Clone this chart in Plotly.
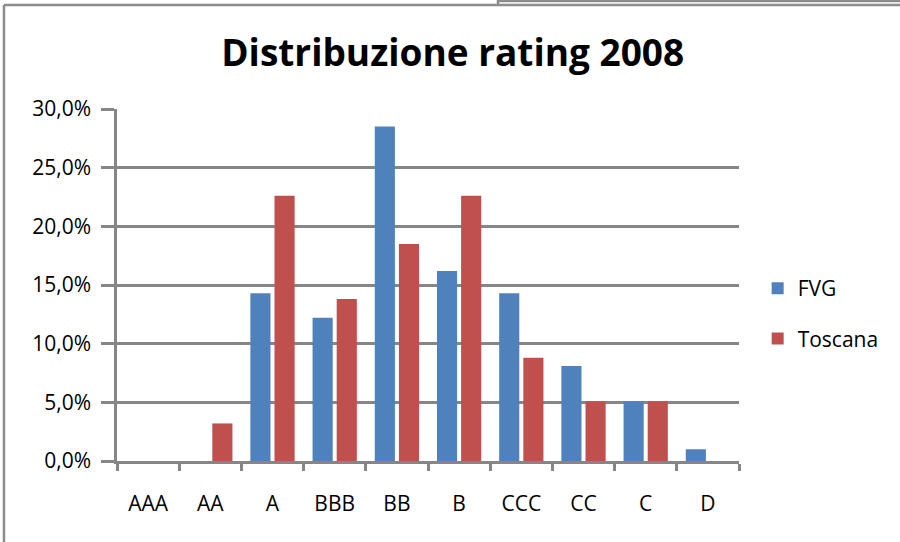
import plotly.graph_objects as go

ratings = ["AAA", "AA", "A", "BBB", "BB", "B", "CCC", "CC", "C", "D"]
fvg_pct = [0.0, 0.0, 14.3, 12.2, 28.5, 16.2, 14.3, 8.1, 5.1, 1.0]
toscana_pct = [0.0, 3.2, 22.6, 13.8, 18.5, 22.6, 8.8, 5.1, 5.1, 0.0]
y_ticks = [0, 5, 10, 15, 20, 25, 30]
y_tick_text = [f"{v:.1f}%".replace(".", ",") for v in y_ticks]

blue = "#4f81bd"
red = "#c0504d"
grid = "#868686"
font_family = "Open Sans, Noto Sans, sans-serif"

fig = go.Figure()
fig.add_trace(
    go.Bar(
        x=ratings,
        y=fvg_pct,
        name="FVG",
        legendgroup="fvg",
        marker=dict(color=blue, line=dict(width=0)),
    )
)
fig.add_trace(
    go.Bar(
        x=ratings,
        y=toscana_pct,
        name="Toscana",
        legendgroup="toscana",
        marker=dict(color=red, line=dict(width=0)),
    )
)

# chart frame: left and top border, plus the edge of the box behind it
frame = dict(color="#8c8c8c", width=2.5)
fig.add_shape(type="line", xref="paper", yref="paper", x0=-0.1817, x1=-0.1817, y0=-0.3, y1=1.2955, line=frame)
fig.add_shape(type="line", xref="paper", yref="paper", x0=-0.1817, x1=1.3, y0=1.2955, y1=1.2955, line=frame)
fig.add_shape(type="line", xref="paper", yref="paper", x0=0.6125, x1=1.3, y0=1.3068, y1=1.3068, line=frame)
fig.add_shape(type="line", xref="paper", yref="paper", x0=0.6125, x1=0.6125, y0=1.2955, y1=1.32, line=frame)

fig.update_layout(
    width=900,
    height=542,
    paper_bgcolor="white",
    plot_bgcolor="white",
    barmode="group",
    bargap=0.224,
    bargroupgap=0.166,
    margin=dict(l=117, r=161, t=109, b=81),
    font=dict(family=font_family, size=21, color="#000000"),
    title=dict(
        text="Distribuzione rating 2008",
        font=dict(family=font_family, size=37, weight="bold"),
        x=0.503,
        xref="container",
        xanchor="center",
        y=0.903,
        yref="container",
        yanchor="middle",
    ),
    legend=dict(
        x=1.030,
        y=0.419,
        xanchor="left",
        yanchor="middle",
        traceorder="grouped",
        tracegroupgap=20,
        font=dict(size=21),
    ),
    xaxis=dict(
        type="category",
        showline=True,
        linecolor=grid,
        linewidth=2.5,
        ticks="outside",
        tickson="boundaries",
        ticklen=7,
        tickwidth=2.5,
        tickcolor=grid,
        ticklabelstandoff=22,
        showgrid=False,
    ),
    yaxis=dict(
        range=[0, 30],
        tickvals=y_ticks,
        ticktext=y_tick_text,
        showline=True,
        linecolor=grid,
        linewidth=2.5,
        ticks="outside",
        ticklen=13,
        tickwidth=2.5,
        tickcolor=grid,
        ticklabelstandoff=6,
        showgrid=True,
        gridcolor=grid,
        gridwidth=2.5,
        zeroline=False,
    ),
)

# the page body has a default 8px margin; drop it so the figure sits at the corner
fig.write_html(
    "out.html",
    config={"displayModeBar": False},
    post_script="document.body.style.margin='0';",
)
